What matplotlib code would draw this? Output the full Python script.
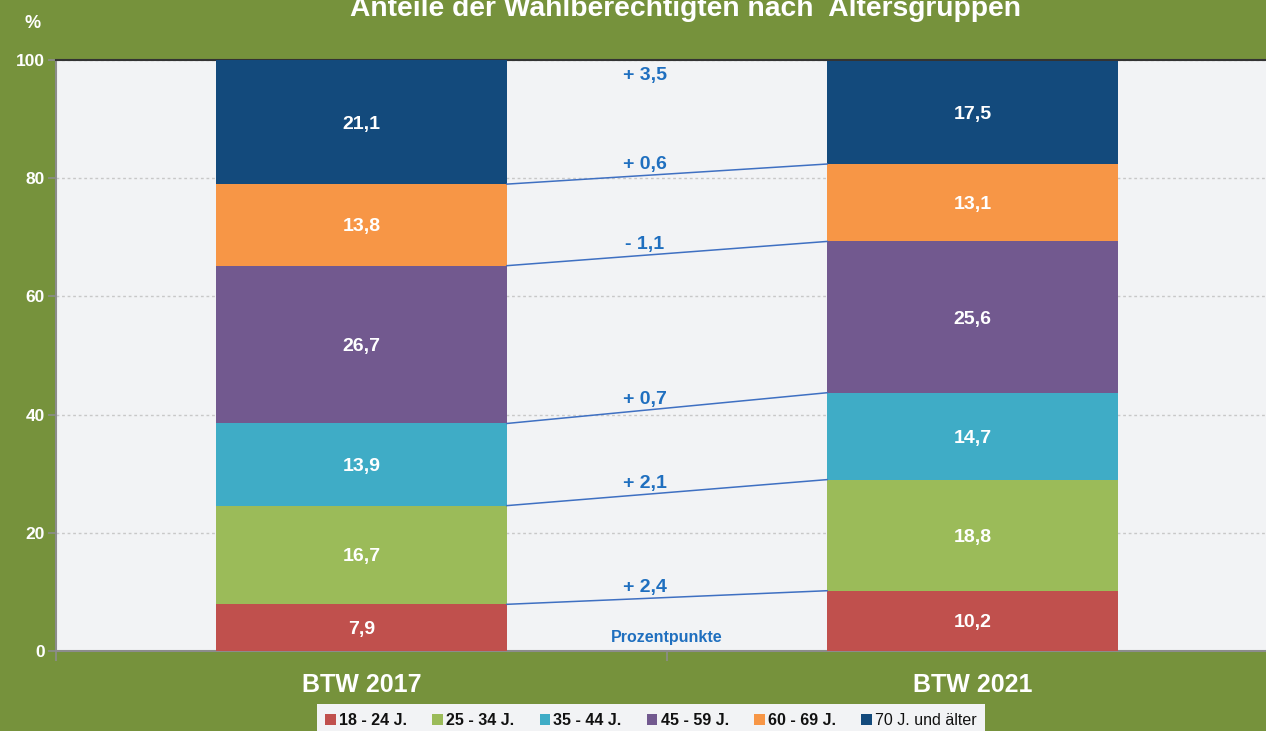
import matplotlib
matplotlib.use("Agg")
import matplotlib.pyplot as plt
from matplotlib.patches import Patch
import numpy as np

plt.rcParams['font.family'] = ['Liberation Sans', 'DejaVu Sans']

# ---- data ----
categories = ["BTW 2017", "BTW 2021"]
age_groups = ["18 - 24 J.", "25 - 34 J.", "35 - 44 J.", "45 - 59 J.", "60 - 69 J.", "70 J. und älter"]
values_2017 = [7.9, 16.7, 13.9, 26.7, 13.8, 21.1]
values_2021 = [10.2, 18.8, 14.7, 25.6, 13.1, 17.5]
change_labels = ["+ 2,4", "+ 2,1", "+ 0,7", "- 1,1", "+ 0,6", "+ 3,5"]
yticks = [0, 20, 40, 60, 80, 100]
title = "Anteile der Wahlberechtigten nach  Altersgruppen"
unit_note = "Prozentpunkte"

colors = ["#C0504D", "#9BBB59", "#3FACC6", "#72598F", "#F79646", "#134A7C"]
bg_green = "#76923C"
plot_bg = "#F2F3F5"
blue_txt = "#1F6FBF"
line_blue = "#3F70C2"

W, H = 1266, 731
fig = plt.figure(figsize=(W / 100, H / 100), dpi=100, facecolor=bg_green)
ax = fig.add_axes([56 / W, (H - 651) / H, (1278 - 56) / W, (651 - 60) / H])
ax.set_facecolor(plot_bg)

x = np.arange(len(categories))
bw = 0.476
data = np.array([values_2017, values_2021])  # shape (2, 6)
bottoms = np.zeros(len(categories))
for i, grp in enumerate(age_groups):
    vals = data[:, i]
    ax.bar(x, vals, bw, bottom=bottoms, color=colors[i], zorder=3, linewidth=0)
    for xi, v, b in zip(x, vals, bottoms):
        yc = (b + 100) / 2 if b + v > 100 else b + v / 2
        ax.text(xi, yc, f"{v:.1f}".replace(".", ","), ha="center", va="center_baseline",
                color="white", fontsize=14, fontweight="bold", zorder=4)
    bottoms = bottoms + vals

# connector lines and change labels
cum = np.cumsum(data, axis=1)
x0, x1 = x[0] + bw / 2, x[1] - bw / 2
xl = 0.464
frac = (xl - x0) / (x1 - x0)
for i in range(len(age_groups) - 1):
    y0, y1 = cum[0, i], cum[1, i]
    ax.plot([x0, x1], [y0, y1], color=line_blue, lw=1.1, zorder=5)
    yl = y0 + frac * (y1 - y0)
    ax.annotate(change_labels[i], (xl, yl), xytext=(0, 9.5), textcoords="offset points",
                ha="center", va="center_baseline", color=blue_txt, fontsize=14, fontweight="bold")
ax.annotate(change_labels[-1], (xl, 100), xytext=(0, -10), textcoords="offset points",
            ha="center", va="center_baseline", color=blue_txt, fontsize=14, fontweight="bold")
ax.annotate(unit_note, (0.5, 0), xytext=(0, 9.5), textcoords="offset points",
            ha="center", va="center", color=blue_txt, fontsize=11.5, fontweight="bold")

ax.set_xlim(-0.5, 1.5)
ax.set_ylim(0, 100)
ax.set_yticks(yticks)
ax.set_yticklabels([str(t) for t in yticks], color="white", fontsize=12.5, fontweight="bold")
ax.tick_params(axis="y", length=6, color="#8C8C8C", width=1.2, pad=2)
ax.yaxis.grid(True, color="#C8C8C8", linestyle=(0, (2, 2)), lw=1, zorder=0)
ax.set_xticks(x)
ax.set_xticklabels(categories, color="white", fontsize=18, fontweight="bold")
ax.tick_params(axis="x", length=0, pad=16)
ax.set_xticks([-0.5, 0.5], minor=True)
ax.tick_params(axis="x", which="minor", length=7, color="#8C8C8C", width=1.2)

for s in ["left", "bottom"]:
    ax.spines[s].set_color("#8C8C8C")
    ax.spines[s].set_linewidth(1.5)
ax.spines["top"].set_color("#333333")
ax.spines["top"].set_linewidth(1.5)
ax.spines["right"].set_visible(False)

fig.text(685 / W, 1 - 16 / H, title, ha="center", va="baseline", color="white",
         fontsize=20.3, fontweight="bold")
fig.text(33 / W, 1 - 24 / H, "%", ha="center", va="center", color="white",
         fontsize=13, fontweight="bold")

handles = [Patch(facecolor=c, edgecolor="none") for c in colors]
leg = fig.legend(handles, age_groups, loc="upper center", bbox_to_anchor=(651 / W, 1 - 704 / H),
                 ncol=6, frameon=True, fancybox=False, framealpha=1, fontsize=11.5,
                 handlelength=0.65, handleheight=0.65, handletextpad=0.2, columnspacing=1.6,
                 borderpad=0.55, borderaxespad=0)
leg.get_frame().set_facecolor(plot_bg)
leg.get_frame().set_edgecolor("none")
for i, t in enumerate(leg.get_texts()):
    t.set_color("#111111")
    t.set_fontweight("bold" if i < 5 else "normal")

fig.savefig("out.png", dpi=100, facecolor=bg_green)
